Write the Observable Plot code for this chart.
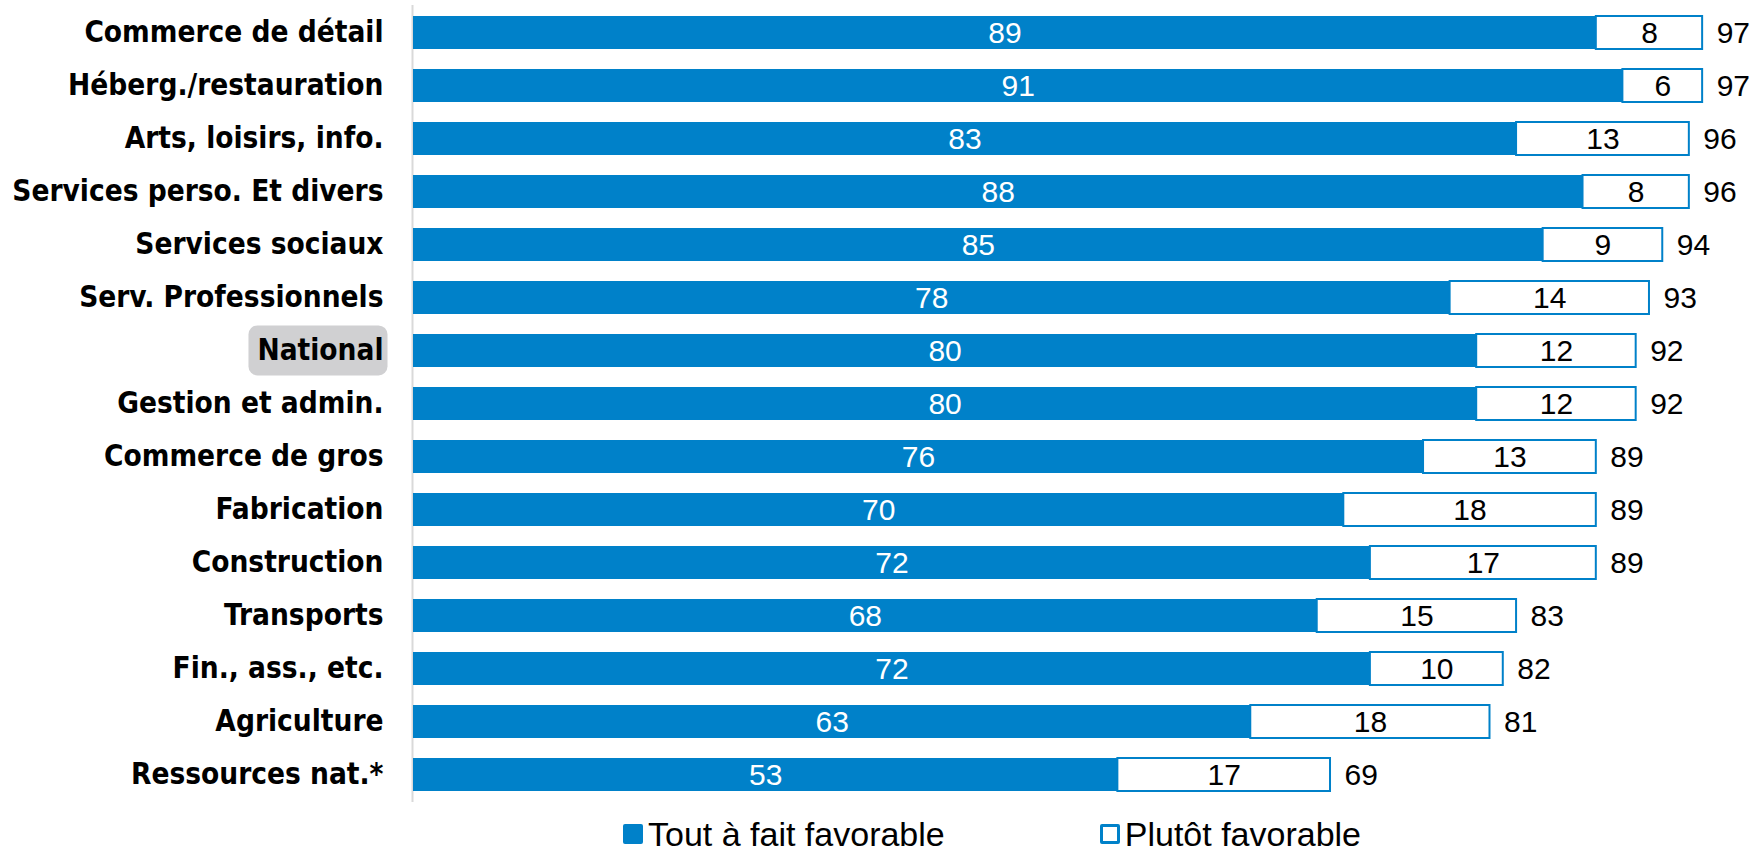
<!DOCTYPE html>
<html>
<head>
<meta charset="utf-8">
<script src="https://cdn.jsdelivr.net/npm/d3@7"></script>
<script src="https://cdn.jsdelivr.net/npm/@observablehq/plot@0.6"></script>
<style>
  html, body { margin: 0; padding: 0; background: #fff; }
  #chart svg { display: block; }
  .legend { display: flex; align-items: center; padding-left: 623px; margin-top: 11px;
    font-family: "Liberation Sans", Arial, sans-serif; font-size: 34px; color: #000; height: 34px; }
  .legend .item { display: flex; align-items: center; }
  .legend .sw { width: 20px; height: 20px; box-sizing: border-box; margin-right: 5px; border-radius: 2px; }
</style>
</head>
<body>
<div id="chart"></div>
<div class="legend">
  <div class="item"><div class="sw" style="background:#0081C9"></div><span>Tout à fait favorable</span></div>
  <div class="item" style="margin-left:155px"><div class="sw" style="background:#fff;border:3px solid #0081C9"></div><span>Plutôt favorable</span></div>
</div>
<script>
const categories = ["Commerce de détail", "Héberg./restauration", "Arts, loisirs, info.", "Services perso. Et divers", "Services sociaux", "Serv. Professionnels", "National", "Gestion et admin.", "Commerce de gros", "Fabrication", "Construction", "Transports", "Fin., ass., etc.", "Agriculture", "Ressources nat.*"];
const toutAFait = [89, 91, 83, 88, 85, 78, 80, 80, 76, 70, 72, 68, 72, 63, 53];
const plutot = [8, 6, 13, 8, 9, 14, 12, 12, 13, 18, 17, 15, 10, 18, 17];
const totals = [97, 97, 96, 96, 94, 93, 92, 92, 89, 89, 89, 83, 82, 81, 69];
const highlight = "National";

const BLUE = "#0081C9";
const data = categories.map((c, i) => ({cat: c, a: toutAFait[i], b: plutot[i], t: totals[i]}));
const valFont = "Liberation Sans, Arial, sans-serif";
const labFont = "DejaVu Sans Condensed, DejaVu Sans, sans-serif";

const chart = Plot.plot({
  width: 1752,
  height: 806,
  marginLeft: 413,
  marginRight: 10,
  marginTop: 0,
  marginBottom: 0,
  x: {domain: [0, 100], axis: null},
  y: {domain: categories, paddingInner: 0.38, paddingOuter: 0.28, axis: null},
  marks: [
    Plot.ruleX([0], {stroke: "#d9d9d9", strokeWidth: 2, dx: -1, insetTop: 5, insetBottom: 4}),
    Plot.barX(data, {x1: 0, x2: "a", y: "cat", fill: BLUE}),
    Plot.barX(data, {x1: "a", x2: "t", y: "cat", fill: "white", stroke: BLUE, strokeWidth: 2}),
    Plot.text(data, {x: d => d.a / 2, y: "cat", text: d => String(d.a), fill: "white", fontSize: 30, fontFamily: valFont}),
    Plot.text(data, {x: d => (d.a + d.t) / 2, y: "cat", text: d => String(d.b), fill: "black", fontSize: 30, fontFamily: valFont}),
    Plot.text(data, {x: "t", y: "cat", text: d => String(d.t), dx: 14, textAnchor: "start", fill: "black", fontSize: 30, fontFamily: valFont}),
    Plot.axisY({tickSize: 0, tickPadding: 30, fontSize: 29.5, fontWeight: "bold", fontFamily: labFont, label: null, fill: "black"})
  ]
});
document.getElementById("chart").appendChild(chart);

// Highlight box behind the "National" label
Array.from(chart.querySelectorAll("text")).forEach(t => {
  if (t.textContent === highlight) {
    const bb = t.getBBox();
    const r = document.createElementNS("http://www.w3.org/2000/svg", "rect");
    r.setAttribute("x", bb.x - 9);
    r.setAttribute("y", bb.y - 8);
    r.setAttribute("width", bb.width + 13);
    r.setAttribute("height", bb.height + 16);
    r.setAttribute("rx", 9);
    r.setAttribute("fill", "#d0d0d2");
    const tr = t.getAttribute("transform");
    if (tr) r.setAttribute("transform", tr);
    t.parentNode.insertBefore(r, t);
  }
});
</script>
</body>
</html>
